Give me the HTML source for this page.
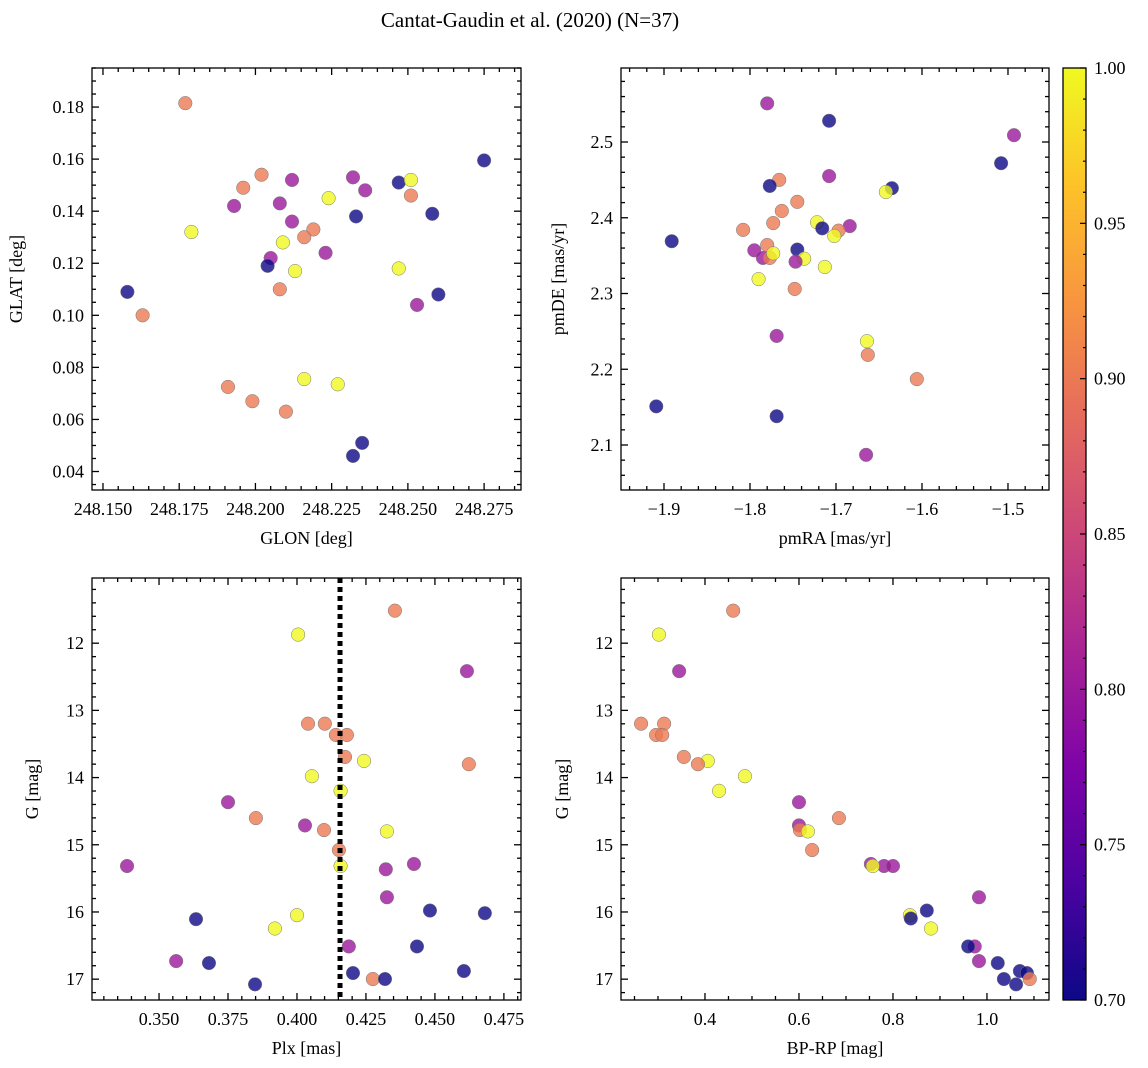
<!DOCTYPE html>
<html><head><meta charset="utf-8"><style>
body{margin:0;background:#fff;}
svg{display:block;}
svg text{font-family:"Liberation Serif","DejaVu Serif",serif;}
</style></head><body>
<svg id="fig" width="1148" height="1068" viewBox="0 0 1148 1068" xmlns="http://www.w3.org/2000/svg" font-family="Liberation Serif, serif">
<defs>
<linearGradient id="plasma" x1="0" y1="1" x2="0" y2="0">
<stop offset="0" stop-color="#0d0887"/><stop offset="0.125" stop-color="#4c02a1"/><stop offset="0.25" stop-color="#7e03a8"/><stop offset="0.375" stop-color="#a92395"/><stop offset="0.5" stop-color="#cc4778"/><stop offset="0.625" stop-color="#e56b5d"/><stop offset="0.75" stop-color="#f89540"/><stop offset="0.875" stop-color="#fdc328"/><stop offset="1" stop-color="#f0f921"/>
</linearGradient>
</defs>
<text x="530" y="27" font-size="21" text-anchor="middle">Cantat-Gaudin et al. (2020) (N=37)</text>
</svg>
<script>
// ---- data ----
const B=0.7,P=0.8,S=0.9,Y=1.0;
const glon=[248.177,248.158,248.163,248.179,248.193,248.196,248.202,248.212,248.208,248.212,248.209,248.205,248.204,248.213,248.208,248.219,248.216,248.223,248.224,248.232,248.236,248.233,248.247,248.251,248.251,248.258,248.247,248.260,248.253,248.275,248.191,248.199,248.210,248.216,248.227,248.235,248.232];
const glat=[0.1815,0.109,0.100,0.132,0.142,0.149,0.154,0.152,0.143,0.136,0.128,0.122,0.119,0.117,0.110,0.133,0.130,0.124,0.145,0.153,0.148,0.138,0.151,0.152,0.146,0.139,0.118,0.108,0.104,0.1595,0.0725,0.067,0.063,0.0755,0.0735,0.051,0.046];
const probTL=[S,B,S,Y,P,S,S,P,P,P,Y,P,B,Y,S,S,S,P,Y,P,P,B,B,Y,S,B,Y,B,P,B,S,S,S,Y,Y,B,B];
const pmra=[-1.780,-1.708,-1.493,-1.508,-1.635,-1.642,-1.708,-1.766,-1.777,-1.745,-1.763,-1.773,-1.808,-1.722,-1.716,-1.684,-1.697,-1.702,-1.891,-1.780,-1.795,-1.745,-1.785,-1.777,-1.773,-1.737,-1.747,-1.713,-1.790,-1.748,-1.769,-1.664,-1.663,-1.606,-1.909,-1.769,-1.665];
const pmde=[2.551,2.528,2.509,2.472,2.439,2.434,2.455,2.450,2.442,2.421,2.409,2.393,2.384,2.394,2.386,2.389,2.383,2.376,2.369,2.364,2.357,2.358,2.347,2.347,2.353,2.346,2.342,2.335,2.319,2.306,2.244,2.237,2.219,2.187,2.151,2.138,2.087];
const probTR=[P,B,P,B,B,Y,P,S,B,S,S,S,S,Y,B,P,S,Y,B,S,P,B,P,S,Y,Y,P,Y,Y,S,P,Y,S,S,B,B,P];
const plx=[0.4355,0.4004,0.4616,0.4040,0.4101,0.4141,0.4181,0.4174,0.4243,0.4623,0.4054,0.4158,0.3750,0.3851,0.4029,0.4098,0.4326,0.4152,0.4424,0.4322,0.4158,0.3384,0.4326,0.4482,0.4681,0.4000,0.3634,0.3920,0.4188,0.4435,0.3562,0.3681,0.4605,0.4203,0.4275,0.4319,0.3848];
const gBL=[11.516,11.872,12.416,13.198,13.198,13.366,13.366,13.693,13.752,13.801,13.980,14.197,14.366,14.603,14.712,14.781,14.801,15.078,15.286,15.365,15.316,15.316,15.781,15.979,16.018,16.048,16.107,16.246,16.513,16.513,16.731,16.760,16.879,16.909,16.998,16.998,17.077];
const probBL=[S,Y,P,S,S,S,S,S,Y,S,Y,Y,P,S,P,S,Y,S,P,P,Y,P,P,B,B,Y,B,Y,P,B,P,B,B,B,S,B,B];
const bprp=[0.460,0.302,0.345,0.264,0.313,0.296,0.309,0.355,0.406,0.385,0.485,0.430,0.600,0.685,0.600,0.602,0.619,0.628,0.753,0.781,0.757,0.800,0.983,0.872,0.836,0.838,0.881,0.974,0.960,0.983,1.023,1.070,1.085,1.091,1.036,1.062];
const gBR=[11.516,11.872,12.416,13.198,13.198,13.366,13.366,13.693,13.752,13.801,13.980,14.197,14.366,14.603,14.712,14.781,14.801,15.078,15.286,15.316,15.316,15.316,15.781,15.979,16.048,16.097,16.246,16.513,16.513,16.731,16.760,16.879,16.909,16.998,16.998,17.077];
const probBR=[S,Y,P,S,S,S,S,S,Y,S,Y,Y,P,S,P,S,Y,S,P,P,Y,P,P,B,Y,B,Y,P,B,P,B,B,B,S,B,B];
const plxRef=0.4156;
const cbarTicks=[0.70,0.75,0.80,0.85,0.90,0.95,1.00];

const NS='http://www.w3.org/2000/svg';
const svg=document.getElementById('fig');
function mk(tag,attrs,parent){const e=document.createElementNS(NS,tag);for(const k in attrs)e.setAttribute(k,attrs[k]);(parent||svg).appendChild(e);return e;}
const stops=[[0,[13,8,135]],[0.125,[76,2,161]],[0.25,[126,3,168]],[0.375,[169,35,149]],[0.5,[204,71,120]],[0.625,[229,107,93]],[0.75,[248,149,64]],[0.875,[253,195,40]],[1,[240,249,33]]];
function plasma(v){let t=(v-0.7)/0.3;t=Math.max(0,Math.min(1,t));for(let i=1;i<stops.length;i++){if(t<=stops[i][0]){const a=stops[i-1],b=stops[i],f=(t-a[0])/(b[0]-a[0]);const c=a[1].map((x,j)=>Math.round(x+(b[1][j]-x)*f));return 'rgb('+c.join(',')+')';}}return 'rgb(240,249,33)';}

function panel(name,box,xr,yr,xMaj,xMin,yMaj,yMin,xdec,ydec,xlab,ylab,xs,ys,ps,ylabX){
  const [L,T,R,Bt]=box;
  const xf=v=>L+(v-xr[0])/(xr[1]-xr[0])*(R-L);
  const yf=v=>T+(v-yr[0])/(yr[1]-yr[0])*(Bt-T);
  const g=mk('g',{});
  
  
  const pts=mk('g',{},g);
  for(let i=0;i<xs.length;i++){
    const c=mk('circle',{cx:xf(xs[i]),cy:yf(ys[i]),r:6.8,fill:plasma(ps[i]),'fill-opacity':0.8,stroke:'#777','stroke-width':0.5},pts);
    
    
  }
  const ax=mk('g',{stroke:'#000','stroke-width':1.3},g);
  const lo=Math.min(xr[0],xr[1]),hi=Math.max(xr[0],xr[1]);
  for(let v=Math.ceil(lo/xMin-1e-6)*xMin;v<=hi+1e-9;v+=xMin){
    const x=xf(v);const isMaj=Math.abs(v/xMaj-Math.round(v/xMaj))<1e-4;const l=isMaj?7:4;
    mk('line',{x1:x,y1:Bt,x2:x,y2:Bt-l},ax);mk('line',{x1:x,y1:T,x2:x,y2:T+l},ax);
    if(isMaj){const t=mk('text',{x:x,y:Bt+25,'font-size':18,'text-anchor':'middle',stroke:'none'},g);t.textContent=v.toFixed(xdec).replace('-','\u2212');
      }
  }
  const ylo=Math.min(yr[0],yr[1]),yhi=Math.max(yr[0],yr[1]);
  for(let v=Math.ceil(ylo/yMin-1e-6)*yMin;v<=yhi+1e-9;v+=yMin){
    const y=yf(v);const isMaj=Math.abs(v/yMaj-Math.round(v/yMaj))<1e-4;const l=isMaj?7:4;
    mk('line',{x1:L,y1:y,x2:L+l,y2:y},ax);mk('line',{x1:R,y1:y,x2:R-l,y2:y},ax);
    if(isMaj){const t=mk('text',{x:L-8,y:y+6,'font-size':18,'text-anchor':'end',stroke:'none'},g);t.textContent=v.toFixed(ydec);
      }
  }
  mk('rect',{x:L,y:T,width:R-L,height:Bt-T,fill:'none',stroke:'#000','stroke-width':1.3},g);
  const xl=mk('text',{x:(L+R)/2,y:Bt+54,'font-size':18,'text-anchor':'middle'},g);xl.textContent=xlab;
  
  const yl=mk('text',{x:ylabX,y:(T+Bt)/2,'font-size':18,'text-anchor':'middle',transform:'rotate(-90 '+ylabX+' '+(T+Bt)/2+')'},g);yl.textContent=ylab;
  
  return {xf,yf,g};
}
panel('glon-glat',[92,68,521,490],[248.1464,248.2871],[0.195,0.0329],0.025,0.005,0.02,0.005,3,2,'GLON [deg]','GLAT [deg]',glon,glat,probTL,22);
panel('pm',[621,68,1049,490],[-1.950,-1.4523],[2.5977,2.0406],0.1,0.02,0.1,0.02,1,1,'pmRA [mas/yr]','pmDE [mas/yr]',pmra,pmde,probTR,564);
const bl=panel('plx-g',[92,578,521,1000],[0.3257,0.4812],[11.03,17.31],0.025,0.005,1,0.2,3,0,'Plx [mas]','G [mag]',plx,gBL,probBL,38);
const ref=mk('line',{x1:bl.xf(plxRef),y1:578,x2:bl.xf(plxRef),y2:1000,stroke:'#000','stroke-width':5,'stroke-dasharray':'5,4'});


panel('cmd',[621,578,1049,1000],[0.2213,1.132],[11.03,17.31],0.2,0.05,1,0.2,1,0,'BP-RP [mag]','G [mag]',bprp,gBR,probBR,568);

// colorbar
const cb=mk('g',{});


const cT=68,cB=1000,cL=1063,cR=1086;
mk('rect',{x:cL,y:cT,width:cR-cL,height:cB-cT,fill:'url(#plasma)',stroke:'#000','stroke-width':1.3},cb);
const cy=v=>cB-(v-0.7)/0.3*(cB-cT);
for(let k=0;k<=30;k++){const v=0.7+k*0.01;const isMaj=k%5==0;mk('line',{x1:cR,y1:cy(v),x2:cR-(isMaj?6:3),y2:cy(v),stroke:'#000','stroke-width':1.2},cb);}
cbarTicks.forEach(v=>{const t=mk('text',{x:cR+8,y:cy(v)+6,'font-size':18},cb);t.textContent=v.toFixed(2);
  });
</script>
</body></html>
